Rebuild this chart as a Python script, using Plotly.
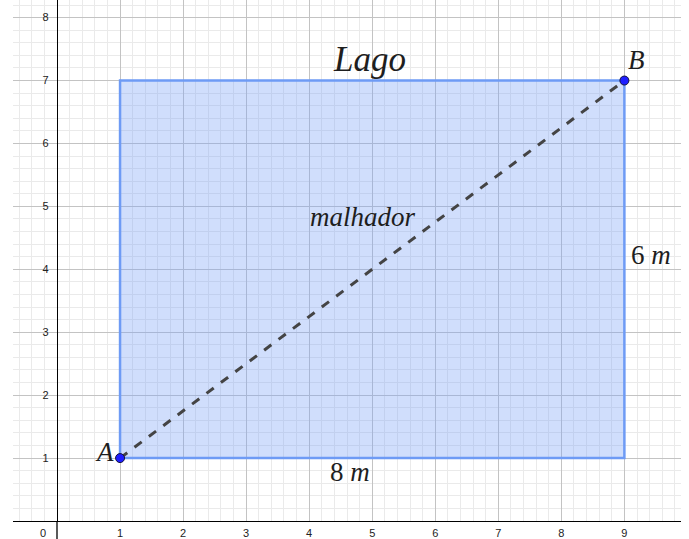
import plotly.graph_objects as go

# data
rect_x = [1, 9, 9, 1, 1]
rect_y = [1, 1, 7, 7, 1]
diag_x = [1, 9]
diag_y = [1, 7]
point_names = ["A", "B"]
point_x = [1, 9]
point_y = [1, 7]
x_ticks = [1, 2, 3, 4, 5, 6, 7, 8, 9]
y_ticks = [1, 2, 3, 4, 5, 6, 7, 8]
x_range = [-0.698, 9.898]
y_range = [0, 8.28]

SERIF = "Liberation Serif, Times New Roman, serif"
SANS = "Liberation Sans, Arial, sans-serif"

fig = go.Figure()

fig.add_trace(go.Scatter(
    x=rect_x, y=rect_y, mode="lines", fill="toself",
    fillcolor="rgba(120,160,245,0.35)",
    line=dict(color="rgb(110,155,245)", width=2.5),
    hoverinfo="skip", showlegend=False))

fig.add_trace(go.Scatter(
    x=diag_x, y=diag_y, mode="lines",
    line=dict(color="rgb(68,68,68)", width=3, dash="dash"),
    hoverinfo="skip", showlegend=False))

fig.add_trace(go.Scatter(
    x=point_x, y=point_y, mode="markers",
    marker=dict(size=9, color="rgb(30,30,255)", line=dict(color="rgb(20,20,60)", width=1)),
    hoverinfo="skip", showlegend=False))

annos = [
    dict(x=point_x[0], y=point_y[0], text="<i>A</i>", xshift=-16, yshift=6, size=27),
    dict(x=point_x[1], y=point_y[1], text="<i>B</i>", xshift=12, yshift=21, size=27),
    dict(x=4.95, y=7.33, text="<i>Lago</i>", xshift=0, yshift=0, size=35),
    dict(x=4.85, y=4.83, text="<i>malhador</i>", xshift=0, yshift=0, size=27),
    dict(x=4.65, y=0.78, text="8 <i>m</i>", xshift=0, yshift=0, size=27),
    dict(x=9.42, y=4.22, text="6 <i>m</i>", xshift=0, yshift=0, size=27),
]
for a in annos:
    fig.add_annotation(x=a["x"], y=a["y"], xref="x", yref="y", text=a["text"],
                       showarrow=False, xshift=a["xshift"], yshift=a["yshift"],
                       font=dict(family=SERIF, size=a["size"], color="rgb(30,30,30)"))

fig.add_annotation(x=-0.22, y=-0.023, xref="x", yref="paper", yanchor="middle", text="0",
                   showarrow=False, borderpad=0, font=dict(family=SANS, size=11, color="#222"))

# y axis extension below x axis
fig.add_shape(type="line", xref="x", yref="paper", x0=0, x1=0, y0=0, y1=-0.04,
              line=dict(color="black", width=1.3))

fig.update_xaxes(range=x_range, tickvals=x_ticks, showgrid=True, gridcolor="rgb(195,195,195)",
                 gridwidth=1, zeroline=False, showline=True, linecolor="black", linewidth=1.3,
                 tickfont=dict(family=SANS, size=11, color="#222"), ticklabelstandoff=2,
                 minor=dict(dtick=0.2, tick0=0, showgrid=True, gridcolor="rgb(234,234,234)", gridwidth=1),
                 fixedrange=True)
fig.update_yaxes(range=y_range, tickvals=y_ticks, showgrid=True, gridcolor="rgb(195,195,195)",
                 gridwidth=1, zeroline=False, showline=True, linecolor="black", linewidth=1.3,
                 anchor="free", position=(57 - 13) / 668,
                 tickfont=dict(family=SANS, size=11, color="#222"), ticklabelstandoff=6,
                 minor=dict(dtick=0.2, tick0=0, showgrid=True, gridcolor="rgb(234,234,234)", gridwidth=1),
                 fixedrange=True)

fig.update_layout(width=689, height=539, margin=dict(l=13, r=8, t=0, b=18),
                  plot_bgcolor="white", paper_bgcolor="white", showlegend=False)

fig.write_html("out.html", config={"displayModeBar": False},
               post_script="document.body.style.margin='0';document.body.style.padding='0';")
